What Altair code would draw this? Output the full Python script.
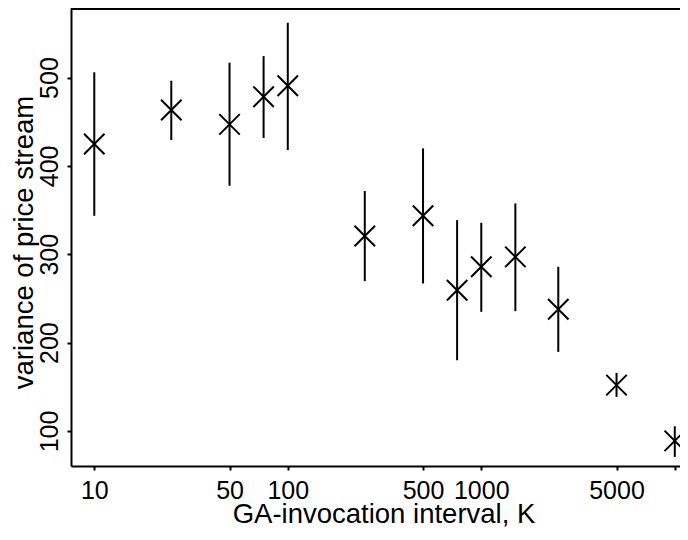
import altair as alt
import pandas as pd

# GA-invocation interval K and variance of price stream (mean, upper, lower)
interval = [10, 25, 50, 75, 100, 250, 500, 750, 1000, 1500, 2500, 5000, 10000]
variance = [424.7, 463.2, 447.0, 478.3, 490.7, 320.7, 343.5, 259.3, 285.8, 297.0, 237.8, 151.8, 88.7]
upper = [505.9, 496.4, 516.8, 524.3, 562.0, 371.5, 419.8, 338.6, 335.6, 357.5, 285.8, 165.7, 105.3]
lower = [343.5, 429.2, 377.5, 431.6, 417.9, 269.5, 266.9, 180.0, 234.8, 235.6, 189.5, 138.5, 70.6]
x_ticks = [10, 50, 100, 500, 1000, 5000, 10000]
y_ticks = [100, 200, 300, 400, 500]

df = pd.DataFrame({"K": interval, "v": variance, "hi": upper, "lo": lower})

FONT = "Liberation Sans"
W, H = 609, 458

xscale = alt.Scale(type="log", domain=[7.58, 10641], nice=False)
yscale = alt.Scale(domain=[60.3, 578.7], nice=False, zero=False)

common = dict(
    domainColor="black", domainWidth=2, tickColor="black", tickWidth=2, tickSize=4,
    labelFont=FONT, labelFontSize=25, labelColor="black",
    labelFlush=False, labelOverlap=False, labelBound=False, grid=False,
    titleFont=FONT, titleFontSize=27.5, titleColor="black", titleFontWeight="normal",
    titleBaseline="alphabetic", titleAlign="center",
)

xaxis = alt.Axis(
    title="GA-invocation interval, K", values=x_ticks, format="d",
    labelExpr="datum.value >= 10000 ? '' : datum.label", labelPadding=8,
    titleX=312.5, titleY=56, **common,
)
yaxis = alt.Axis(
    title="variance of price stream", values=y_ticks, format="d",
    labelAngle=270, labelAlign="center", labelBaseline="alphabetic", labelPadding=10,
    titleAngle=270, titleX=-39, titleY=234, **common,
)

base = alt.Chart(df)
bars = base.mark_rule(color="black", strokeWidth=2).encode(
    x=alt.X("K:Q", scale=xscale, axis=xaxis),
    y=alt.Y("lo:Q", scale=yscale, axis=yaxis),
    y2="hi:Q",
)
pts = base.mark_point(
    shape="M-1,-1L1,1M-1,1L1,-1", size=420, filled=False,
    color="black", strokeWidth=2, opacity=1,
).encode(
    x=alt.X("K:Q", scale=xscale),
    y=alt.Y("v:Q", scale=yscale),
)
top = alt.Chart(pd.DataFrame({"a": [0]})).mark_rule(color="black", strokeWidth=2).encode(
    x=alt.value(0), x2=alt.value(W), y=alt.value(1)
)

chart = (
    alt.layer(bars, pts, top)
    .properties(
        width=W, height=H,
        autosize=alt.AutoSizeParams(type="none"),
        padding={"left": 63, "top": 0, "right": 0, "bottom": 61},
        background="white",
    )
    .configure_view(stroke=None)
)

chart.save("out.html", embed_options={"renderer": "svg", "actions": False})
